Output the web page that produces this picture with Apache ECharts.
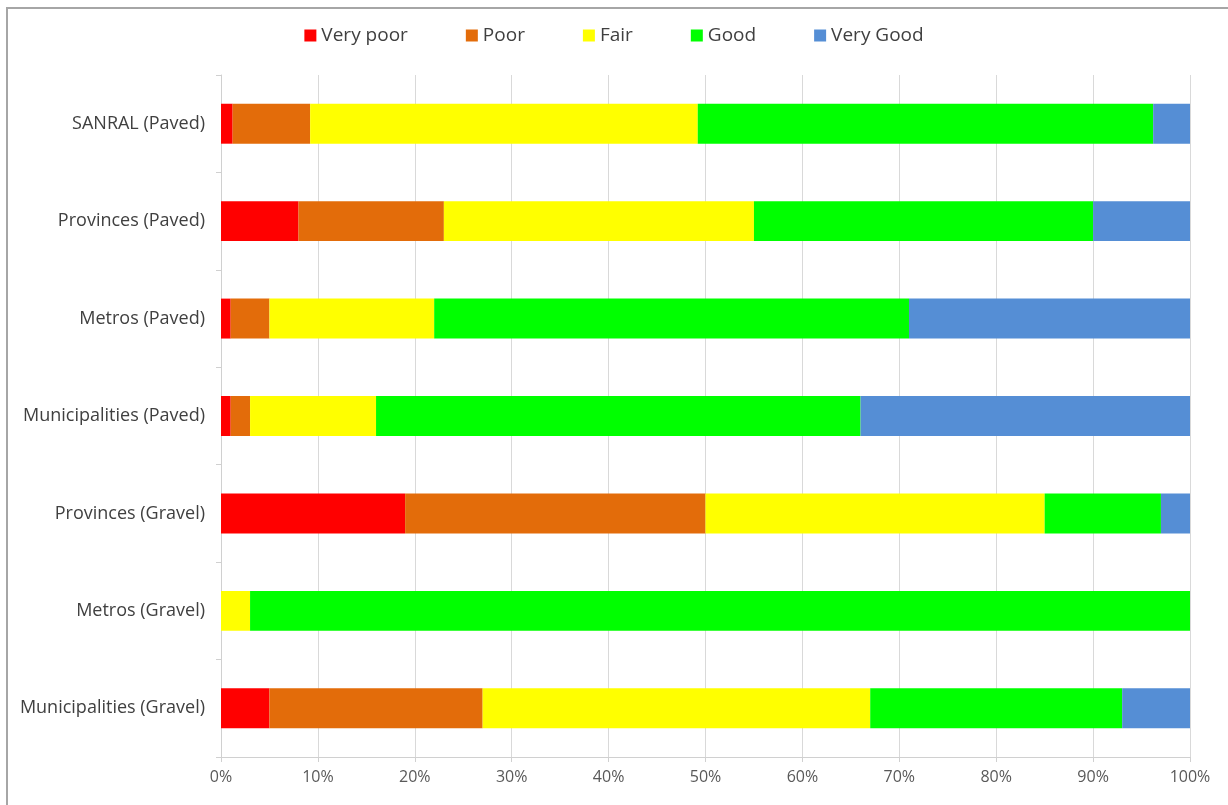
<!DOCTYPE html>
<html>
<head>
<meta charset="utf-8">
<script src="https://cdn.jsdelivr.net/npm/echarts@6/dist/echarts.min.js"></script>
<style>
  html, body { margin: 0; padding: 0; background: #ffffff; }
  #chart { width: 1228px; height: 805px; }
</style>
</head>
<body>
<div id="chart"></div>
<script>
// Road network condition by authority and surface type (% of network length)
const categories = [
  'SANRAL (Paved)',
  'Provinces (Paved)',
  'Metros (Paved)',
  'Municipalities (Paved)',
  'Provinces (Gravel)',
  'Metros (Gravel)',
  'Municipalities (Gravel)'
];
const veryPoor = [1.2, 8, 1, 1, 19, 0, 5];
const poor     = [8, 15, 4, 2, 31, 0, 22];
const fair     = [40, 32, 17, 13, 35, 3, 40];
const good     = [47, 35, 49, 50, 12, 97, 26];
const veryGood = [3.8, 10, 29, 34, 3, 0, 7];
const xTicks = ['0%', '10%', '20%', '30%', '40%', '50%', '60%', '70%', '80%', '90%', '100%'];

const seriesDefs = [
  { name: 'Very poor', data: veryPoor, color: '#ff0000' },
  { name: 'Poor',      data: poor,     color: '#e36c0a' },
  { name: 'Fair',      data: fair,     color: '#ffff00' },
  { name: 'Good',      data: good,     color: '#00ff00' },
  { name: 'Very Good', data: veryGood, color: '#558ed5' }
];

const font = '"Open Sans", "Liberation Sans", sans-serif';
const chart = echarts.init(document.getElementById('chart'), null, { renderer: 'canvas' });

chart.setOption({
  animation: false,
  backgroundColor: '#ffffff',
  graphic: [{
    type: 'rect',
    shape: { x: 7, y: 8, width: 1240, height: 820 },
    style: { fill: 'none', stroke: '#a6a6a6', lineWidth: 2 },
    silent: true,
    z: -1
  }],
  legend: {
    top: 21,
    left: 'center',
    itemWidth: 12,
    itemHeight: 12,
    itemGap: 58,
    icon: 'rect',
    textStyle: { fontFamily: font, fontSize: 19, color: '#404040' },
    data: seriesDefs.map(s => s.name)
  },
  grid: { left: 221, right: 38, top: 75, bottom: 48, containLabel: false },
  xAxis: {
    type: 'value',
    min: 0,
    max: 100,
    interval: 10,
    axisLine: { show: true, lineStyle: { color: '#d0d0d0', width: 1 } },
    axisTick: { show: true, length: 5, lineStyle: { color: '#d0d0d0' } },
    splitLine: { show: true, lineStyle: { color: '#d9d9d9', width: 1 } },
    axisLabel: {
      fontFamily: font, fontSize: 16, color: '#595959', margin: 12,
      formatter: v => xTicks[Math.round(v / 10)]
    }
  },
  yAxis: {
    type: 'category',
    inverse: true,
    data: categories,
    axisLine: { show: true, lineStyle: { color: '#d0d0d0', width: 1 } },
    axisTick: { show: true, length: 5, lineStyle: { color: '#d0d0d0' } },
    axisLabel: { fontFamily: font, fontSize: 18, color: '#404040', margin: 16 }
  },
  series: seriesDefs.map(s => ({
    name: s.name,
    type: 'bar',
    stack: 'total',
    data: s.data,
    barCategoryGap: '59%',
    itemStyle: { color: s.color },
    emphasis: { disabled: true }
  }))
});
</script>
</body>
</html>
